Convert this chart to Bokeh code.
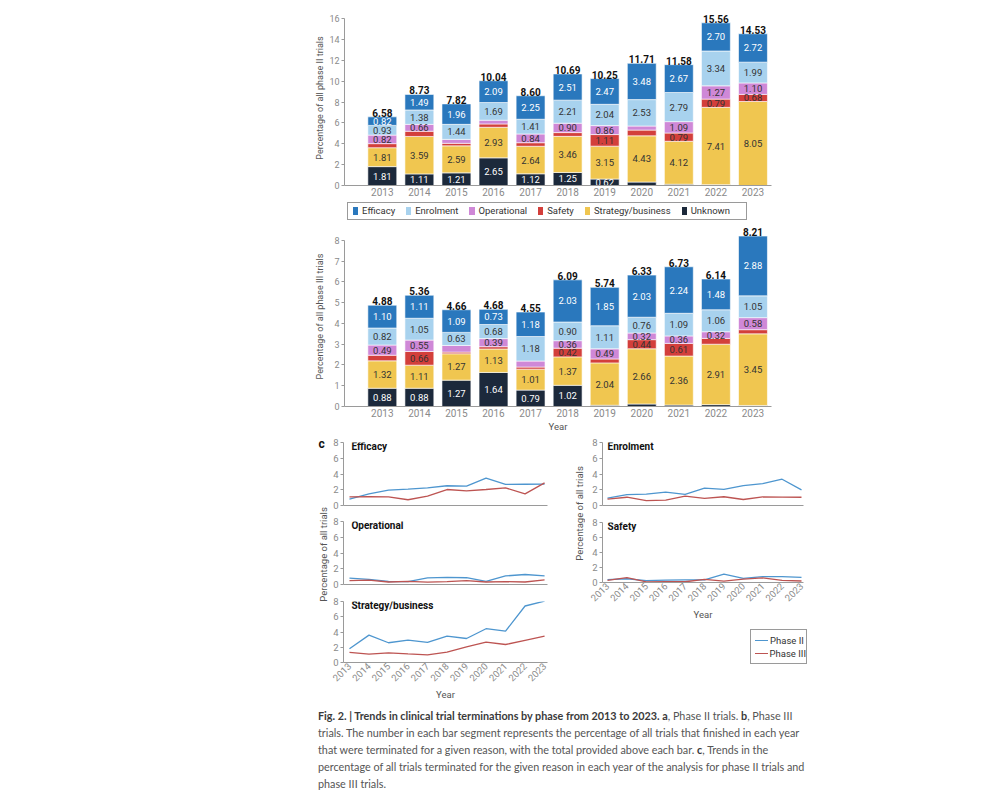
import math
from bokeh.plotting import figure
from bokeh.models import (ColumnDataSource, Range1d, FixedTicker, Label, Div, Spacer)
from bokeh.layouts import column, row
from bokeh.embed import file_html
from bokeh.resources import INLINE
from bokeh.core.properties import value

FONT = "Roboto"

# ---------------- data ----------------
years = [2013, 2014, 2015, 2016, 2017, 2018, 2019, 2020, 2021, 2022, 2023]

# stack order bottom -> top
stack_keys = ["unknown", "strategy", "safety", "operational", "enrolment", "efficacy"]
legend_keys = ["efficacy", "enrolment", "operational", "safety", "strategy", "unknown"]
reason_names = {"efficacy": "Efficacy", "enrolment": "Enrolment", "operational": "Operational",
                "safety": "Safety", "strategy": "Strategy/business", "unknown": "Unknown"}
phase_names = ["Phase II", "Phase III"]

# Phase II (% of all phase II trials)
p2_unknown     = [1.81, 1.11, 1.21, 2.65, 1.12, 1.25, 0.62, 0.33, 0.12, 0.08, 0.00]
p2_strategy    = [1.81, 3.59, 2.59, 2.93, 2.64, 3.46, 3.15, 4.43, 4.12, 7.41, 8.05]
p2_safety      = [0.39, 0.50, 0.24, 0.32, 0.34, 0.36, 1.11, 0.55, 0.79, 0.79, 0.68]
p2_operational = [0.82, 0.66, 0.38, 0.36, 0.84, 0.90, 0.86, 0.39, 1.09, 1.27, 1.10]
p2_enrolment   = [0.93, 1.38, 1.44, 1.69, 1.41, 2.21, 2.04, 2.53, 2.79, 3.34, 1.99]
p2_efficacy    = [0.82, 1.49, 1.96, 2.09, 2.25, 2.51, 2.47, 3.48, 2.67, 2.70, 2.72]
p2_total       = [6.58, 8.73, 7.82, 10.04, 8.60, 10.69, 10.25, 11.71, 11.58, 15.56, 14.53]

# Phase III (% of all phase III trials)
p3_unknown     = [0.88, 0.88, 1.27, 1.64, 0.79, 1.02, 0.06, 0.12, 0.07, 0.09, 0.05]
p3_strategy    = [1.32, 1.11, 1.27, 1.13, 1.01, 1.37, 2.04, 2.66, 2.36, 2.91, 3.45]
p3_safety      = [0.27, 0.66, 0.08, 0.11, 0.10, 0.42, 0.19, 0.44, 0.61, 0.28, 0.20]
p3_operational = [0.49, 0.55, 0.32, 0.39, 0.29, 0.36, 0.49, 0.32, 0.36, 0.32, 0.58]
p3_enrolment   = [0.82, 1.05, 0.63, 0.68, 1.18, 0.90, 1.11, 0.76, 1.09, 1.06, 1.05]
p3_efficacy    = [1.10, 1.11, 1.09, 0.73, 1.18, 2.03, 1.85, 2.03, 2.24, 1.48, 2.88]
p3_total       = [4.88, 5.36, 4.66, 4.68, 4.55, 6.09, 5.74, 6.33, 6.73, 6.14, 8.21]

# years whose segment carries a printed value
p2_labeled = {
    "unknown": [2013, 2014, 2015, 2016, 2017, 2018, 2019],
    "strategy": years,
    "safety": [2019, 2021, 2022, 2023],
    "operational": [2013, 2014, 2017, 2018, 2019, 2021, 2022, 2023],
    "enrolment": years,
    "efficacy": years,
}
p3_labeled = {
    "unknown": [2013, 2014, 2015, 2016, 2017, 2018],
    "strategy": years,
    "safety": [2014, 2018, 2020, 2021],
    "operational": [2013, 2014, 2016, 2018, 2019, 2020, 2021, 2022, 2023],
    "enrolment": years,
    "efficacy": years,
}

p2 = dict(unknown=p2_unknown, strategy=p2_strategy, safety=p2_safety,
          operational=p2_operational, enrolment=p2_enrolment, efficacy=p2_efficacy)
p3 = dict(unknown=p3_unknown, strategy=p3_strategy, safety=p3_safety,
          operational=p3_operational, enrolment=p3_enrolment, efficacy=p3_efficacy)

colors = {"efficacy": "#2a78bd", "enrolment": "#a8d2ee", "operational": "#cf88d7",
          "safety": "#d33f3b", "strategy": "#f0c650", "unknown": "#1c293b"}
label_colors = {"efficacy": "white", "enrolment": "#333333", "operational": "#333333",
                "safety": "#333333", "strategy": "#333333", "unknown": "white"}
PH2 = "#4e96cf"
PH3 = "#bd5452"
AX = "#9a9a9a"
TICK_TXT = "#8a8a8a"
LAB_TXT = "#555555"


def style_axes(p):
    p.outline_line_color = None
    p.xgrid.visible = False
    p.ygrid.visible = False
    for ax in (p.xaxis, p.yaxis):
        ax.axis_line_color = AX
        ax.major_tick_line_color = AX
        ax.minor_tick_line_color = None
        ax.major_label_text_font = FONT
        ax.major_label_text_color = TICK_TXT
        ax.axis_label_text_font = FONT
        ax.axis_label_text_color = LAB_TXT
        ax.axis_label_text_font_style = "normal"
    p.yaxis.major_tick_out = 3
    p.yaxis.major_tick_in = 0
    p.xaxis.major_tick_line_color = None
    p.xaxis.major_tick_out = 0
    p.xaxis.major_tick_in = 0


def bar_panel(vals, totals, labeled, ymax, ystep, yend, height, top, bottom,
              ylabel, xlabel, letter, letter_y, ylab_standoff):
    p = figure(width=982, height=height, x_range=Range1d(2011.98, 2023.5),
               y_range=Range1d(0, yend), output_backend="svg", toolbar_location=None,
               min_border_left=336, min_border_right=219, min_border_top=top,
               min_border_bottom=bottom)
    style_axes(p)
    src = ColumnDataSource(dict(year=years, **{k: vals[k] for k in stack_keys}))
    p.vbar_stack(stack_keys, x="year", width=0.78, source=src,
                 fill_color=[colors[k] for k in stack_keys],
                 line_color="white", line_width=0.6)

    lx, ly, lt, lc = [], [], [], []
    tops = []
    for i, yr in enumerate(years):
        base = 0.0
        for k in stack_keys:
            v = vals[k][i]
            if yr in labeled[k]:
                lx.append(yr)
                ly.append(base + v / 2)
                lt.append(f"{v:.2f}")
                lc.append(label_colors[k])
            base += v
        tops.append(base)
    p.text(x=lx, y=ly, text=lt, text_color=lc, text_align="center",
           text_baseline="middle", text_font=value(FONT), text_font_size="9.5px")
    p.text(x=years, y=tops, text=[f"{t:.2f}" for t in totals], text_color="#111111",
           text_align="center", text_baseline="bottom", y_offset=0,
           text_font=value(FONT), text_font_size="10px", text_font_style="bold")

    p.yaxis.ticker = FixedTicker(ticks=[i * ystep for i in range(int(round(ymax / ystep)) + 1)])
    p.yaxis.bounds = (0, ymax)
    p.xaxis.ticker = FixedTicker(ticks=years)
    p.xaxis.major_label_standoff = 2
    p.yaxis.major_label_standoff = 2
    p.xaxis.major_label_text_font_size = "10px"
    p.yaxis.major_label_text_font_size = "9px"
    p.yaxis.axis_label = ylabel
    p.yaxis.axis_label_text_font_size = "9px"
    p.yaxis.axis_label_standoff = ylab_standoff
    if xlabel:
        p.xaxis.axis_label = xlabel
        p.xaxis.axis_label_text_font_size = "9.5px"
        p.xaxis.axis_label_standoff = 1
    p.add_layout(Label(x=2011.28, y=letter_y, text=letter, text_font=FONT,
                       text_font_size="12px", text_font_style="bold",
                       text_baseline="middle", text_color="#111111"))
    return p


# ---------------- panel a ----------------
pa = bar_panel(p2, p2_total, p2_labeled, 16, 2, 16.77, 192, 2, 15,
               "Percentage of all phase II trials", None, "a", 16.1, 1)

legend_a = Div(
    text=('<div style="box-sizing:border-box;width:400px;height:18px;border:1px solid #9a9a9a;'
          'display:flex;align-items:center;padding:0 5px;font-family:Roboto;font-size:9.5px;'
          'color:#333333;white-space:nowrap;">' +
          ''.join(f'<span style="display:inline-block;width:8px;height:8px;background:{colors[k]};'
                  f'margin-right:4px;"></span><span style="margin-right:11px;">{reason_names[k]}</span>'
                  for k in legend_keys) + '</div>'),
    width=400, height=18, margin=0)

# ---------------- panel b ----------------
pb = bar_panel(p3, p3_total, p3_labeled, 8, 1, 8.67, 210, 2, 27,
               "Percentage of all phase III trials", "Year", "b", 8.05, 6)

# ---------------- panel c ----------------
XL = (2012.694, 2023.15)
XR = (2012.742, 2023.103)


def line_panel(key, title, width, height, left, right, top, bottom, xr, show_xlabels, title_x):
    p = figure(width=width, height=height, x_range=Range1d(*xr), y_range=Range1d(0, 8),
               output_backend="svg", toolbar_location=None,
               min_border_left=left, min_border_right=right, min_border_top=top,
               min_border_bottom=bottom)
    style_axes(p)
    p.line(years, p2[key], line_color=PH2, line_width=1.3)
    p.line(years, p3[key], line_color=PH3, line_width=1.3)
    p.yaxis.ticker = FixedTicker(ticks=[0, 2, 4, 6, 8])
    p.yaxis.major_label_text_font_size = "9.5px"
    p.yaxis.major_label_standoff = 2
    if show_xlabels:
        p.xaxis.ticker = FixedTicker(ticks=years)
        p.xaxis.major_label_orientation = math.pi / 4
        p.xaxis.major_label_text_font_size = "9.5px"
        p.xaxis.major_label_standoff = 2
        p.xaxis.axis_label = "Year"
        p.xaxis.axis_label_text_font_size = "9.5px"
        p.xaxis.axis_label_standoff = 1
    else:
        p.xaxis.ticker = FixedTicker(ticks=[])
        p.xaxis.major_label_standoff = 0
    p.add_layout(Label(x=title_x, y=7.45, text=title, text_font=FONT, text_font_size="10px",
                       text_font_style="bold", text_baseline="middle", text_color="#111111"))
    return p


c_eff = line_panel("efficacy", "Efficacy", 227, 78, 13, 10, 8, 7, XL, False, 2013.1)
c_op = line_panel("operational", "Operational", 227, 79, 13, 10, 9, 7, XL, False, 2013.1)
c_str = line_panel("strategy", "Strategy/business", 227, 111, 13, 10, 10, 38, XL, True, 2013.1)
c_enr = line_panel("enrolment", "Enrolment", 230, 79, 17, 12, 8, 8, XR, False, 2013.0)
c_saf = line_panel("safety", "Safety", 230, 109, 17, 12, 9, 38, XR, True, 2013.0)

legend_c = Div(
    text=('<div style="box-sizing:border-box;width:57px;height:35px;border:1px solid #9a9a9a;'
          'padding:4px 0 0 4px;font-family:Roboto;font-size:9.5px;color:#333333;'
          'line-height:13px;white-space:nowrap;">' +
          ''.join(f'<div style="display:flex;align-items:center;"><span style="display:inline-block;'
                  f'width:13px;height:0;border-top:1.4px solid {c};margin-right:2px;"></span>{n}</div>'
                  for n, c in zip(phase_names, [PH2, PH3])) + '</div>'),
    width=57, height=35, margin=0)


def blank_fig(width, height):
    p = figure(width=width, height=height, x_range=Range1d(0, width), y_range=Range1d(0, height),
               output_backend="svg", toolbar_location=None, x_axis_type=None, y_axis_type=None,
               min_border_left=0, min_border_right=0, min_border_top=0, min_border_bottom=0)
    p.outline_line_color = None
    p.xgrid.visible = False
    p.ygrid.visible = False
    return p


lab_left = blank_fig(16, 268)
lab_left.add_layout(Label(x=9, y=268 - 120, text="Percentage of all trials", angle=math.pi / 2,
                          text_align="center", text_baseline="middle", text_font=FONT,
                          text_font_size="9.5px", text_color=LAB_TXT))
lab_left.add_layout(Label(x=4, y=268 - 9, text="c", text_align="left", text_baseline="middle",
                          text_font=FONT, text_font_size="12px", text_font_style="bold",
                          text_color="#111111"))
lab_right = blank_fig(28, 236)
lab_right.add_layout(Label(x=22, y=236 - 79, text="Percentage of all trials", angle=math.pi / 2,
                           text_align="center", text_baseline="middle", text_font=FONT,
                           text_font_size="9.5px", text_color=LAB_TXT))

right_col = column(c_enr, c_saf, Spacer(width=10, height=7),
                   row(Spacer(width=165, height=35), legend_c))
panel_c = row(Spacer(width=306, height=268), lab_left, column(c_eff, c_op, c_str),
              lab_right, right_col)

caption = Div(
    text=('<span style="font-weight:bold;color:#3a3a3a">Fig. 2. | Trends in clinical trial terminations '
          'by phase from 2013 to 2023. a</span>, Phase II trials. <b style="color:#3a3a3a">b</b>, Phase III<br>'
          'trials. The number in each bar segment represents the percentage of all trials that finished in each year<br>'
          'that were terminated for a given reason, with the total provided above each bar. '
          '<b style="color:#3a3a3a">c</b>, Trends in the<br>'
          'percentage of all trials terminated for the given reason in each year of the analysis for phase II trials and<br>'
          'phase III trials.'),
    width=520, height=85, margin=0,
    styles={"font-family": "Lato", "font-size": "10.8px", "line-height": "17px",
            "color": "#555555", "white-space": "nowrap"})

content = column(pa,
                 Spacer(width=10, height=2),
                 row(Spacer(width=339, height=18), legend_a),
                 Spacer(width=10, height=4),
                 pb, panel_c, Spacer(width=10, height=5),
                 row(Spacer(width=310, height=85), caption))
layout = column(Spacer(width=10, height=8), row(Spacer(width=8, height=10), content))

with open("out.html", "w") as f:
    f.write(file_html(layout, INLINE))
